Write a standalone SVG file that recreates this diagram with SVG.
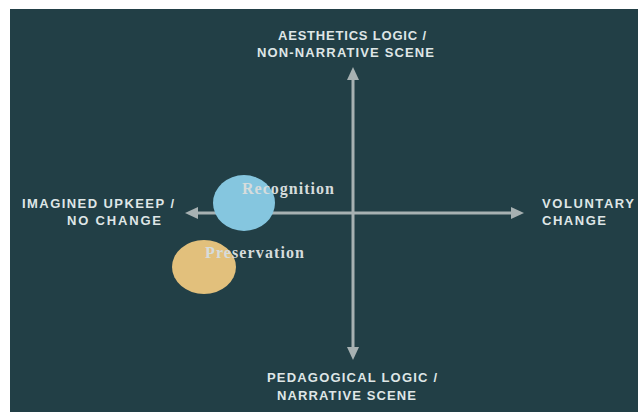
<svg xmlns="http://www.w3.org/2000/svg" width="638" height="412" viewBox="0 0 638 412">
<style>
.lbl{font-family:"Liberation Sans",Arial,sans-serif;font-weight:bold;font-size:13px;fill:#dfe6e6;letter-spacing:1px}
.nl{font-family:"Liberation Serif","Times New Roman",serif;font-weight:bold;font-size:16px;fill:#d6dcdc;letter-spacing:1px}
.ax{stroke:#a7b1b2;stroke-width:3;fill:none}
.ah{fill:#a7b1b2}
</style>
<rect x="0" y="0" width="638" height="412" fill="#ffffff"/>
<rect x="10" y="9" width="628" height="403" fill="#223f46"/>
<g id="connectors">
<line class="ax" x1="353" y1="76" x2="353" y2="350"/>
<polygon class="ah" points="353,67 347,80 359,80"/>
<polygon class="ah" points="353,360 347,347 359,347"/>
<line class="ax" x1="194" y1="213" x2="514" y2="213"/>
<polygon class="ah" points="185,213 198,207 198,219"/>
<polygon class="ah" points="524,213 511,207 511,219"/>
</g>
<g id="top-label">
<text class="lbl" x="278" y="40" textLength="149">AESTHETICS LOGIC /</text>
<text class="lbl" x="257" y="57" textLength="178">NON-NARRATIVE SCENE</text>
</g>
<g id="bottom-label">
<text class="lbl" x="267" y="382" textLength="171">PEDAGOGICAL LOGIC /</text>
<text class="lbl" x="277" y="400" textLength="140">NARRATIVE SCENE</text>
</g>
<g id="left-label">
<text class="lbl" x="22" y="208" textLength="153">IMAGINED UPKEEP /</text>
<text class="lbl" x="67" y="225" textLength="95">NO CHANGE</text>
</g>
<g id="right-label">
<text class="lbl" x="542" y="208" textLength="93">VOLUNTARY</text>
<text class="lbl" x="542" y="225" textLength="65">CHANGE</text>
</g>
<g id="recognition">
<ellipse cx="244" cy="203" rx="31" ry="28" fill="#85c6df"/>
<text class="nl" x="242" y="194" textLength="93">Recognition</text>
</g>
<g id="preservation">
<ellipse cx="204" cy="267" rx="32" ry="27" fill="#e2c07c"/>
<text class="nl" x="205" y="258" textLength="100">Preservation</text>
</g>
</svg>
